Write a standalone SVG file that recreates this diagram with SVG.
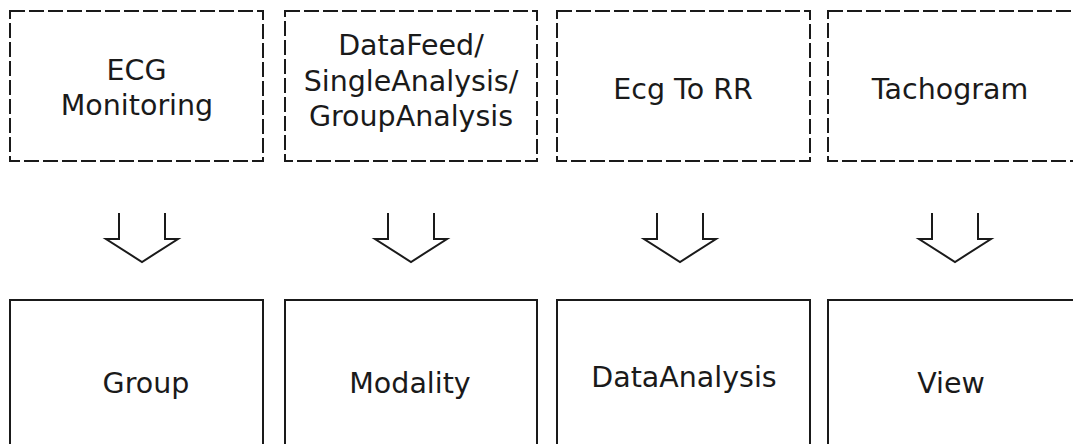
<svg xmlns="http://www.w3.org/2000/svg" width="1073" height="444" viewBox="0 0 1073 444">
<style>
.bg{fill:#ffffff}
.dash{fill:#ffffff;stroke:#1a1a1a;stroke-width:2;stroke-dasharray:15 4}
.solid{fill:#ffffff;stroke:#1a1a1a;stroke-width:2}
.arrow{fill:none;stroke:#1a1a1a;stroke-width:2;stroke-linejoin:miter}
.t{font-family:"DejaVu Sans",sans-serif;font-size:28.5px;fill:#1a1a1a;text-anchor:middle}
</style>
<rect class="bg" x="0" y="0" width="1073" height="444"/>
<g id="ecg-monitoring">
<rect class="dash" x="10" y="11" width="253" height="150"/>
<text class="t" x="136.5" y="80">ECG</text>
<text class="t" x="137" y="115">Monitoring</text>
</g>
<g id="datafeed">
<rect class="dash" x="285" y="11" width="252" height="150"/>
<text class="t" x="411" y="55">DataFeed/</text>
<text class="t" x="411" y="90.5">SingleAnalysis/</text>
<text class="t" x="411" y="126">GroupAnalysis</text>
</g>
<g id="ecg-to-rr">
<rect class="dash" x="557" y="11" width="253" height="150"/>
<text class="t" x="683" y="99">Ecg To RR</text>
</g>
<g id="tachogram">
<rect class="dash" x="828" y="11" width="253" height="150"/>
<text class="t" x="950" y="99">Tachogram</text>
</g>
<g id="group">
<rect class="solid" x="10" y="300" width="253" height="160"/>
<text class="t" x="146" y="393">Group</text>
</g>
<g id="modality">
<rect class="solid" x="285" y="300" width="252" height="160"/>
<text class="t" x="410" y="393">Modality</text>
</g>
<g id="dataanalysis">
<rect class="solid" x="557" y="300" width="253" height="160"/>
<text class="t" x="684" y="387">DataAnalysis</text>
</g>
<g id="view">
<rect class="solid" x="828" y="300" width="253" height="160"/>
<text class="t" x="951" y="393">View</text>
</g>
<g id="connectors">
<path class="arrow" d="M119,213 L119,239 L106,239 L142,262 L178,239 L165,239 L165,213"/>
<path class="arrow" d="M388,213 L388,239 L375,239 L411,262 L447,239 L434,239 L434,213"/>
<path class="arrow" d="M657,213 L657,239 L644,239 L680,262 L716,239 L703,239 L703,213"/>
<path class="arrow" d="M932,213 L932,239 L919,239 L955,262 L991,239 L978,239 L978,213"/>
</g>
</svg>
